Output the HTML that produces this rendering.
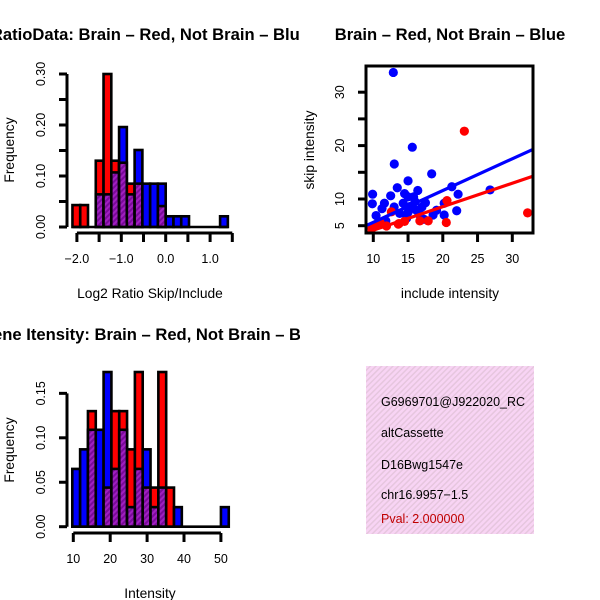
<!DOCTYPE html>
<html><head><meta charset="utf-8"><style>
html,body{margin:0;padding:0;background:#fff}
svg{display:block;font-family:"Liberation Sans",sans-serif}
</style></head><body>
<svg id="chart" width="600" height="600" viewBox="0 0 600 600" xmlns="http://www.w3.org/2000/svg">
<defs>
<pattern id="hatch" width="4" height="4" patternUnits="userSpaceOnUse" patternTransform="rotate(45)">
<rect width="4" height="4" fill="#a020c0"/><rect width="2" height="4" fill="#7a0a9a"/></pattern>
<pattern id="pinkhatch" width="4" height="4" patternUnits="userSpaceOnUse" patternTransform="rotate(45)">
<rect width="4" height="4" fill="#f8d4f4"/><rect width="1.5" height="4" fill="#e6c6de"/></pattern>
<clipPath id="clipL"><rect x="0" y="0" width="300" height="300"/></clipPath>
<clipPath id="clipB"><rect x="0" y="300" width="300" height="300"/></clipPath>
<clipPath id="clipS"><rect x="366" y="66" width="167" height="167"/></clipPath>
<clipPath id="clipI"><rect x="366" y="366" width="168" height="168"/></clipPath>
</defs>
<g id="root"></g>
</svg>
<script>
// ---- Top-left histogram data (log2 ratio) ----
const ratioBinStart = -2.1;
const ratioBinWidth = 0.175;
const ratioRed  = [0.043,0.043,0,0.13,0.30,0.13,0.126,0.085,0.085,0,0,0.041,0,0,0,0,0,0,0,0];
const ratioBlue = [0,0,0,0.064,0.064,0.107,0.196,0.064,0.151,0.085,0.085,0.085,0.021,0.021,0.021,0,0,0,0,0.021];
const ratioXTicks = [-2.0,-1.5,-1.0,-0.5,0.0,0.5,1.0,1.5];
const ratioXLabels = ["\u22122.0","","\u22121.0","","0.0","","1.0",""];
const ratioYTicks = [0,0.05,0.10,0.15,0.20,0.25,0.30];
const ratioYLabels = ["0.00","","0.10","","0.20","","0.30"];

// ---- Bottom-left histogram data (intensity) ----
const intBinStart = 9.73;
const intBinWidth = 2.12;
const intRed  = [0,0,0.13,0,0.044,0.13,0.13,0.087,0.174,0.044,0.044,0.174,0.044,0,0,0,0,0,0,0];
const intBlue = [0.065,0.087,0.109,0.109,0.174,0.065,0.109,0.022,0.065,0.087,0.022,0.044,0,0.022,0,0,0,0,0,0.022];
const intXTicks = [10,20,30,40,50];
const intYTicks = [0,0.05,0.10,0.15];
const intYLabels = ["0.00","0.05","0.10","0.15"];

// ---- Scatter data ----
const blueX = [12.88,15.61,13.02,18.4,15.0,13.45,16.4,21.3,22.2,26.8,9.9,9.86,12.5,11.6,11.25,10.4,11.8,17.5,19.1,20.2,20.2,22.0,17.3,15.0,15.8,14.3,15.3,13.8,14.8,16.2,12.9,18.6,16.7,14.5,16.0,13.0,17.0,15.0];
const blueY = [33.7,19.7,16.55,14.7,13.4,12.1,11.6,12.3,10.9,11.7,10.9,9.1,10.6,9.2,8.2,6.9,5.9,9.3,7.9,7.0,9.2,7.8,6.2,10.4,10.4,9.2,8.6,7.3,6.4,7.9,7.9,7.0,7.0,11.0,9.5,8.5,8.5,7.5];
const redX = [23.1,32.2,20.6,20.5,17.9,16.7,13.6,11.9,10.5,12.6,13.7,14.5,11.0,9.8];
const redY = [22.7,7.4,9.7,5.6,5.9,5.9,5.3,4.95,5.1,7.6,5.4,5.8,5.5,4.5];
const fitSlope = [0.595,0.44];      // blue, red
const fitIntercept = [-0.32,-0.24];
const scatXTicks = [10,15,20,25,30];
const scatYTicks = [5,10,15,20,25,30];
const scatYLabels = ["5","10","","20","","30"];

// ---- Info panel ----
const infoLines = ["G6969701@J922020_RC","altCassette","D16Bwg1547e","chr16.9957\u22121.5"];
const pvalText = "Pval: 2.000000";

const NS="http://www.w3.org/2000/svg";
const root=document.getElementById('root');
function mk(tag,attrs,parent){const e=document.createElementNS(NS,tag);for(const k in attrs)e.setAttribute(k,attrs[k]);(parent||root).appendChild(e);return e;}
function txt(s,attrs,parent){const e=mk('text',attrs,parent);e.textContent=s;return e;}

function histogram(cfg){
  const g=mk('g',{});
  
  
  const sx=v=>cfg.x0+(v-cfg.xv0)*cfg.xs;
  const sy=v=>cfg.y0-v*cfg.ys;
  const n=Math.max(cfg.red.length,cfg.blue.length);
  for(let i=0;i<n;i++){
    const r=cfg.red[i]||0,b=cfg.blue[i]||0;
    const left=sx(cfg.binStart+i*cfg.binWidth),right=sx(cfg.binStart+(i+1)*cfg.binWidth);
    const hi=Math.max(r,b),lo=Math.min(r,b);
    if(hi<=0)continue;
    const big=mk('rect',{x:left,y:sy(hi),width:right-left,height:sy(0)-sy(hi),fill:r>=b?'#ff0000':'#0000ff',stroke:'#000','stroke-width':2.6},g);
    
    
    if(lo>0){
      const p=mk('rect',{x:left,y:sy(lo),width:right-left,height:sy(0)-sy(lo),fill:'url(#hatch)',stroke:'#000','stroke-width':2.6},g);
      
      
    }
  }
  mk('line',{x1:sx(cfg.binStart),x2:sx(cfg.binStart+n*cfg.binWidth),y1:sy(0),y2:sy(0),stroke:'#000','stroke-width':2.6},g);
  const ya=mk('g',{},g);
  
  
  const yt=cfg.yTicks;
  mk('line',{x1:cfg.yAxisX,x2:cfg.yAxisX,y1:sy(yt[0]),y2:sy(yt[yt.length-1]),stroke:'#000','stroke-width':3},ya);
  yt.forEach((v,i)=>{
    mk('line',{x1:cfg.yAxisX-8,x2:cfg.yAxisX,y1:sy(v),y2:sy(v),stroke:'#000','stroke-width':3},ya);
    if(cfg.yLabels[i]){const t=txt(cfg.yLabels[i],{x:cfg.yAxisX-22,y:sy(v),'font-size':12.5,'text-anchor':'middle',transform:`rotate(-90 ${cfg.yAxisX-22} ${sy(v)})`},ya);
      
      }
  });
  const xa=mk('g',{},g);
  
  
  const xt=cfg.xTicks;
  mk('line',{x1:sx(xt[0]),x2:sx(xt[xt.length-1]),y1:cfg.xAxisY,y2:cfg.xAxisY,stroke:'#000','stroke-width':3},xa);
  xt.forEach((v,i)=>{
    mk('line',{x1:sx(v),x2:sx(v),y1:cfg.xAxisY,y2:cfg.xAxisY+9,stroke:'#000','stroke-width':3},xa);
    if(cfg.xLabels[i]){const t=txt(cfg.xLabels[i],{x:sx(v),y:cfg.xAxisY+30,'font-size':12.5,'text-anchor':'middle'},xa);
      
      }
  });
}

histogram({name:'ratio-histogram',red:ratioRed,blue:ratioBlue,binStart:ratioBinStart,binWidth:ratioBinWidth,
  x0:165.7,xv0:0,xs:44.4,y0:227,ys:510,yAxisX:67,xAxisY:233,
  xTicks:ratioXTicks,xLabels:ratioXLabels,yTicks:ratioYTicks,yLabels:ratioYLabels});
histogram({name:'intensity-histogram',red:intRed,blue:intBlue,binStart:intBinStart,binWidth:intBinWidth,
  x0:73.3,xv0:10,xs:3.69,y0:526.7,ys:889,yAxisX:67,xAxisY:533,
  xTicks:intXTicks,xLabels:intXTicks.map(String),yTicks:intYTicks,yLabels:intYLabels});

(function(){
  const g=mk('g',{});
  
  
  const sx=v=>373.3+(v-10)*6.95, sy=v=>225.7-(v-5)*5.34;
  const pts=mk('g',{'clip-path':'url(#clipS)'},g);
  blueX.forEach((x,i)=>{const c=mk('circle',{cx:sx(x),cy:sy(blueY[i]),r:4.6,fill:'#0000ff'},pts);
    
    });
  redX.forEach((x,i)=>{const c=mk('circle',{cx:sx(x),cy:sy(redY[i]),r:4.6,fill:'#ff0000'},pts);
    
    });
  const cols=['#0000ff','#ff0000'];
  fitSlope.forEach((m,i)=>{const xa=8,xb=34;
    const l=mk('line',{x1:sx(xa),y1:sy(fitIntercept[i]+m*xa),x2:sx(xb),y2:sy(fitIntercept[i]+m*xb),stroke:cols[i],'stroke-width':3.2},pts);
    
    });
  const box=mk('rect',{x:366,y:66,width:167,height:167,fill:'none',stroke:'#000','stroke-width':3},g);
  
  
  scatXTicks.forEach(v=>{mk('line',{x1:sx(v),x2:sx(v),y1:233,y2:242,stroke:'#000','stroke-width':3},g);
    const t=txt(String(v),{x:sx(v),y:263,'font-size':12.5,'text-anchor':'middle'},g);
    
    });
  scatYTicks.forEach((v,i)=>{mk('line',{x1:358,x2:366,y1:sy(v),y2:sy(v),stroke:'#000','stroke-width':3},g);
    if(scatYLabels[i]){const t=txt(scatYLabels[i],{x:344,y:sy(v),'font-size':12.5,'text-anchor':'middle',transform:`rotate(-90 344 ${sy(v)})`},g);
      
      }});
})();

(function(){
  const g=mk('g',{'clip-path':'url(#clipI)'});
  
  
  mk('rect',{x:366,y:366,width:168,height:168,fill:'url(#pinkhatch)'},g);
  const ys=[406,437,469,499];
  infoLines.forEach((s,i)=>{const t=txt(s,{x:381,y:ys[i],'font-size':12.5,fill:'#000'},g);
    
    });
  const p=txt(pvalText,{x:381,y:523,'font-size':12.5,fill:'#c00000'},g);
  
  
})();

function label(s,name,attrs,parent){const t=txt(s,attrs,parent);return t;}
const gl=mk('g',{'clip-path':'url(#clipL)'});
label('RatioData: Brain \u2013 Red, Not Brain \u2013 Blue','ratio-title',{x:309,y:40,'font-size':16.6,'font-weight':'bold','text-anchor':'end'},gl);
label('Brain \u2013 Red, Not Brain \u2013 Blue','scatter-title',{x:450,y:40,'font-size':16.6,'font-weight':'bold','text-anchor':'middle'});
const gb=mk('g',{'clip-path':'url(#clipB)'});
label('Gene Itensity: Brain \u2013 Red, Not Brain \u2013 Blue','intensity-title',{x:325,y:340,'font-size':16.6,'font-weight':'bold','text-anchor':'end'},gb);
label('Log2 Ratio Skip/Include','ratio-x-axis-title',{x:150,y:298,'font-size':13.8,'text-anchor':'middle'});
label('include intensity','scatter-x-axis-title',{x:450,y:298,'font-size':13.8,'text-anchor':'middle'});
label('Intensity','intensity-x-axis-title',{x:150,y:598,'font-size':13.8,'text-anchor':'middle'});
label('Frequency','ratio-y-axis-title',{x:14,y:150,'font-size':13.8,'text-anchor':'middle',transform:'rotate(-90 14 150)'});
label('Frequency','intensity-y-axis-title',{x:14,y:450,'font-size':13.8,'text-anchor':'middle',transform:'rotate(-90 14 450)'});
label('skip intensity','scatter-y-axis-title',{x:314,y:150,'font-size':13.8,'text-anchor':'middle',transform:'rotate(-90 314 150)'});
</script>
</body></html>
